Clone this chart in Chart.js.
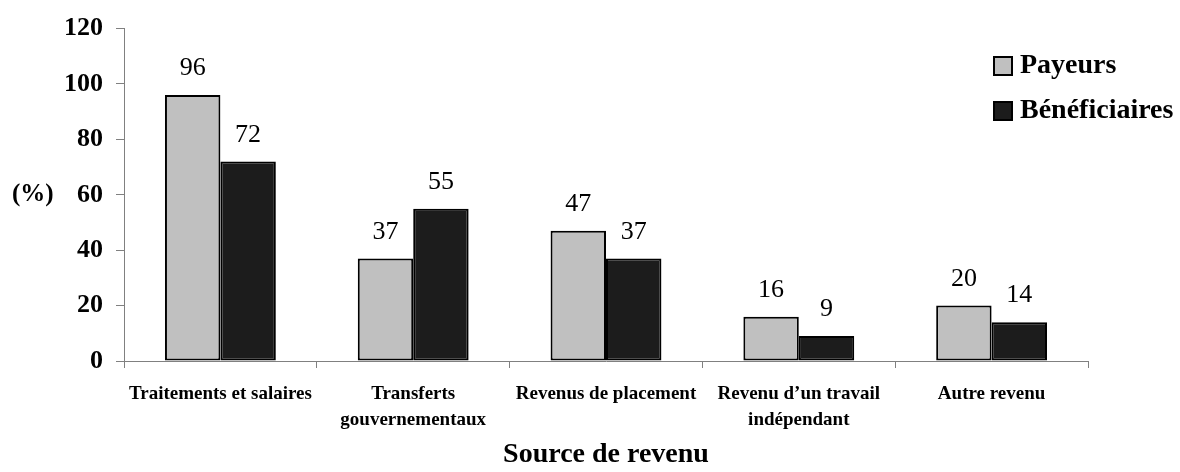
<!DOCTYPE html>
<html>
<head>
<meta charset="utf-8">
<script src="https://cdn.jsdelivr.net/npm/chart.js@4/dist/chart.umd.min.js"></script>
<style>
html, body { margin: 0; padding: 0; background: #fff; }
</style>
</head>
<body>
<canvas id="chart" width="1180" height="472"></canvas>
<script>
const categories = [
    ["Traitements et salaires"],
    ["Transferts", "gouvernementaux"],
    ["Revenus de placement"],
    ["Revenu d’un travail", "indépendant"],
    ["Autre revenu"]
];
const payeurs = [96, 37, 47, 16, 20];
const beneficiaires = [72, 55, 37, 9, 14];
const seriesNames = ["Payeurs", "Bénéficiaires"];
const yMin = 0, yMax = 120, yStep = 20;

const serif = "'Liberation Serif', 'Times New Roman', serif";

// value labels, legend and the (%) label are drawn by hand
const extras = {
    id: 'extras',
    afterDatasetsDraw(chart) {
        let ctx = chart.ctx;
        ctx.save();
        ctx.fillStyle = '#000';
        ctx.font = "26px " + serif;
        ctx.textAlign = 'center';
        ctx.textBaseline = 'alphabetic';
        chart.data.datasets.forEach((ds, i) => {
            chart.getDatasetMeta(i).data.forEach((bar, j) => {
                ctx.fillText(ds.data[j], bar.x, bar.y - 20);
            });
        });

        ctx.font = "bold 25px " + serif;
        ctx.textAlign = 'left';
        ctx.textBaseline = 'middle';
        ctx.fillText("(%)", 12, chart.scales.y.getPixelForValue(60));

        ctx.font = "bold 28px " + serif;
        chart.data.datasets.forEach((ds, i) => {
            let cy = 66 + i * 45;
            ctx.fillStyle = ds.backgroundColor;
            ctx.fillRect(994, cy - 9, 18, 18);
            ctx.strokeStyle = '#000';
            ctx.lineWidth = 2;
            ctx.strokeRect(994, cy - 9, 18, 18);
            ctx.fillStyle = '#000';
            ctx.fillText(ds.label, 1020, cy);
        });
        ctx.restore();
    }
};

new Chart(document.getElementById("chart").getContext("2d"), {
    type: 'bar',
    data: {
        labels: categories,
        datasets: [
            { label: seriesNames[0], data: payeurs, backgroundColor: '#c0c0c0', borderColor: '#000', borderWidth: 2, borderSkipped: false, categoryPercentage: 0.575, barPercentage: 1.0 },
            { label: seriesNames[1], data: beneficiaires, backgroundColor: '#1c1c1c', borderColor: '#000', borderWidth: 2, borderSkipped: false, categoryPercentage: 0.575, barPercentage: 1.0 }
        ]
    },
    options: {
        responsive: false,
        animation: false,
        layout: { padding: { left: 0, top: 21, right: 92, bottom: 0 } },
        plugins: { legend: { display: false }, tooltip: { enabled: false } },
        scales: {
            x: {
                afterFit: scale => { scale.height = 111; },
                grid: { offset: true, drawOnChartArea: false, tickLength: 7, color: '#808080' },
                border: { color: '#808080', width: 1 },
                ticks: { color: '#000', font: { family: serif, size: 19, weight: 'bold', lineHeight: 26 / 19 }, padding: 13, maxRotation: 0, autoSkip: false },
                title: { display: true, text: 'Source de revenu', color: '#000', font: { family: serif, size: 28, weight: 'bold' }, padding: { top: 0, bottom: 0 } }
            },
            y: {
                min: yMin,
                max: yMax,
                afterFit: scale => { scale.width = 124; },
                grid: { drawOnChartArea: false, tickLength: 8, color: '#808080' },
                border: { color: '#808080', width: 1 },
                ticks: { stepSize: yStep, color: '#000', font: { family: serif, size: 26, weight: 'bold' }, padding: 13 }
            }
        }
    },
    plugins: [extras]
});
</script>
</body>
</html>
